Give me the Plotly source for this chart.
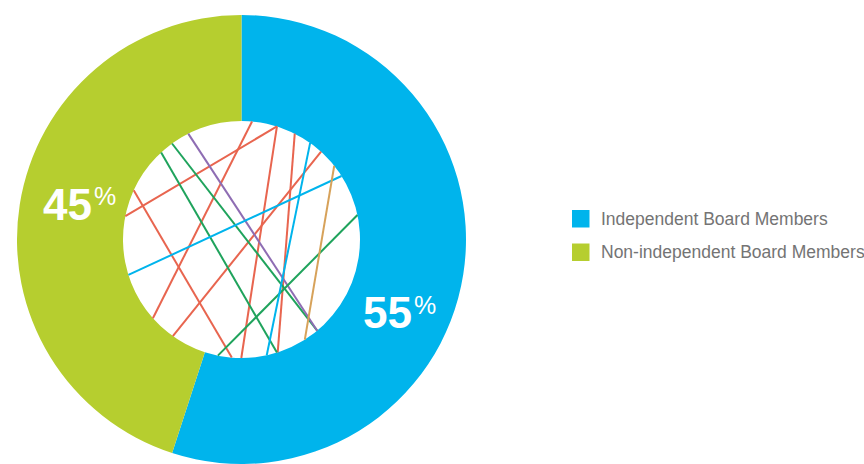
import math
import plotly.graph_objects as go

# ---- data ----
labels = ["Independent Board Members", "Non-independent Board Members"]
values = [55, 45]
colors = ["#00B4EC", "#B6CE2F"]

# decorative chords across the donut hole:
# (start angle, end angle, colour); degrees, counter-clockwise from 3 o'clock
chords = [
    (168.6, 72.6, "#E8654F"),
    (84.9, 221.6, "#E8654F"),
    (72.6, 269.9, "#E8654F"),
    (63.3, 287.8, "#E8654F"),
    (47.8, 234.6, "#E8654F"),
    (155.5, 265.3, "#E8654F"),
    (132.7, 287.4, "#1FA35C"),
    (125.9, 309.7, "#1FA35C"),
    (116.7, 309.7, "#8E6DB3"),
    (11.9, 258.5, "#1FA35C"),
    (197.4, 32.4, "#00B4EC"),
    (54.6, 282.3, "#00B4EC"),
    (38.5, 302.3, "#D7A25A"),
]

# ---- geometry (pixels) ----
W, H = 864, 464
CX, CY = 241.5, 239.5      # donut centre
R_OUT = 224.5              # outer radius
R_IN = 118.5               # hole radius


def px(x):
    return x / W


def py(y):
    return 1 - y / H


fig = go.Figure(
    go.Pie(
        labels=labels,
        values=values,
        marker=dict(colors=colors, line=dict(width=0)),
        hole=R_IN / R_OUT,
        sort=False,
        direction="clockwise",
        rotation=0,
        textinfo="none",
        hoverinfo="label+percent",
        showlegend=False,
        domain=dict(x=[px(CX - R_OUT), px(CX + R_OUT)],
                    y=[py(CY + R_OUT), py(CY - R_OUT)]),
    )
)

shapes = []
for a0, a1, col in chords:
    x0 = CX + R_IN * math.cos(math.radians(a0))
    y0 = CY - R_IN * math.sin(math.radians(a0))
    x1 = CX + R_IN * math.cos(math.radians(a1))
    y1 = CY - R_IN * math.sin(math.radians(a1))
    shapes.append(dict(type="line", xref="paper", yref="paper",
                       x0=px(x0), y0=py(y0), x1=px(x1), y1=py(y1),
                       line=dict(color=col, width=2), layer="above"))

# custom legend: squares plus labels
LEG_X, LEG_Y0, LEG_DY, SQ = 572, 210, 33.5, 17.5
annotations = []
for i, (lab, col) in enumerate(zip(labels, colors)):
    top = LEG_Y0 + i * LEG_DY
    shapes.append(dict(type="rect", xref="paper", yref="paper",
                       x0=px(LEG_X), x1=px(LEG_X + SQ),
                       y0=py(top + SQ), y1=py(top),
                       fillcolor=col, line=dict(width=0)))
    annotations.append(dict(
        text=lab, xref="paper", yref="paper",
        x=px(599), y=py(top + SQ / 2), xanchor="left", yanchor="middle",
        showarrow=False,
        font=dict(family="Liberation Sans, Arial", size=17.5, color="#747474"),
    ))

# percentage labels (number + raised percent sign)
label_pos = [(413, 312.5), (93, 204)]   # right edge of digits, digit mid-height
for v, (xr, ym) in zip(values, label_pos):
    annotations.append(dict(
        text=f"{v}", xref="paper", yref="paper",
        x=px(xr), y=py(ym), xanchor="right", yanchor="middle",
        showarrow=False, borderpad=0,
        font=dict(family="Liberation Sans, Arial", size=44, color="white",
                  weight="bold"),
    ))
    annotations.append(dict(
        text="%", xref="paper", yref="paper",
        x=px(xr), y=py(ym - 8), xanchor="left", yanchor="middle",
        showarrow=False, borderpad=0,
        font=dict(family="Liberation Sans, Arial", size=25, color="white"),
    ))

fig.update_layout(
    width=W, height=H,
    margin=dict(l=0, r=0, t=0, b=0),
    paper_bgcolor="white",
    plot_bgcolor="white",
    shapes=shapes,
    annotations=annotations,
)

fig.write_html("out.html")
